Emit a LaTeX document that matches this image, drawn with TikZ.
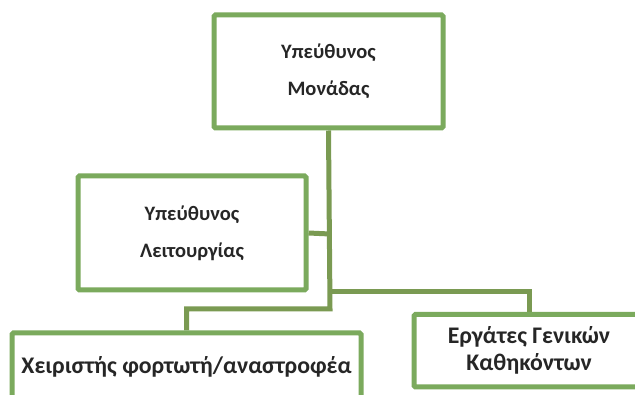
\documentclass[tikz,border=0pt]{standalone}
\usepackage{fontspec}
\setmainfont{Carlito}
\usetikzlibrary{backgrounds}
\definecolor{boxgreen}{HTML}{7BAA5D}
\definecolor{linkgreen}{HTML}{7A9A52}
\tikzset{
  orgbox/.style={draw=boxgreen, line width=5pt, rounded corners=1.5pt, fill=white,
    inner sep=0pt, align=center, font=\bfseries\fontsize{20.5}{37}\selectfont, text=black!85},
  bigtext/.style={font=\bfseries\fontsize{23.8}{27}\selectfont},
  link/.style={draw=linkgreen, line width=5pt}
}
\begin{document}
\begin{tikzpicture}[x=1pt,y=-1pt]
\useasboundingbox (0,0) rectangle (635,395);
\clip (0,0) rectangle (635,395);
\coordinate (jl) at (330,309);
\coordinate (jr) at (330,292);
\coordinate (j2) at (330,234);
\node[orgbox, minimum width=229pt, minimum height=113pt] (top) at (328.5,71.5) {Υπεύθυνος\\Μονάδας};
\node[orgbox, minimum width=228pt, minimum height=114pt] (lei) at (192,233) {Υπεύθυνος\\Λειτουργίας};
\node[orgbox, bigtext, minimum width=349pt, minimum height=68pt] (xei) at (186.5,367) {Χειριστής φορτωτή/αναστροφέα};
\node[orgbox, bigtext, minimum width=230pt, minimum height=72.5pt] (erg) at (529,350.75) {Εργάτες Γενικών\\Καθηκόντων};
\begin{scope}[on background layer]
\fill[white] (0,0) rectangle (635,395);
\draw[link] (top.south) -- (jl) -| (xei.north);
\draw[link] (lei.east) -- (j2);
\draw[link] (jr) -| (erg.north);
\end{scope}
\end{tikzpicture}
\end{document}
